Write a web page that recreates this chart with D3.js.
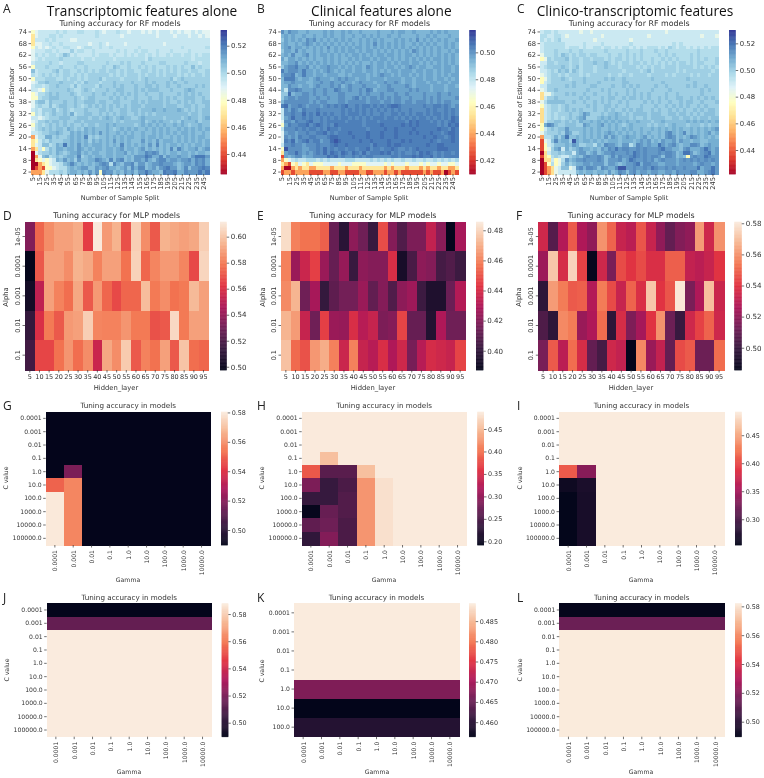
<!DOCTYPE html>
<html><head><meta charset="utf-8">
<script src="https://cdn.jsdelivr.net/npm/d3@7"></script>
<style>html,body{margin:0;padding:0;background:#fff}svg{display:block;filter:blur(0.35px)}text{font-family:"DejaVu Sans",sans-serif;fill:#333}</style>
</head><body><svg id="c" width="764" height="778"></svg>
<script>
// ---- categories ----
const rfSplits = d3.range(5,255,5);
const rfEstimators = d3.range(74,0,-2);
const mlpLayers = d3.range(5,100,5);
const mlpAlphas = ["1e-05","0.0001","0.001","0.01","0.1"];
const gammas = ["0.0001","0.001","0.01","0.1","1.0","10.0","100.0","1000.0","10000.0"];
const cValues = ["0.0001","0.001","0.01","0.1","1.0","10.0","100.0","1000.0","10000.0","100000.0"];
const cValuesK = ["0.0001","0.001","0.01","0.1","1.0","10.0","100.0"];

// ---- accuracy levels; each RF row character indexes one level ----
const levelsA = [.425,.44,.455,.47,.48,.488,.494,.498,.502,.506,.51,.514,.517,.52,.525,.531];
const levelsB = [.41,.425,.44,.455,.465,.473,.48,.485,.489,.493,.497,.501,.504,.507,.511,.516];
const levelsC = [.422,.437,.452,.465,.475,.484,.491,.496,.50,.504,.508,.512,.515,.519,.524,.53];

const rfA = [
"4566666767 6667766676 5666766566 6565656665 6565565655",
"3566677676 6666666676 6666656666 6666656666 5666566565",
"3666767666 6556666666 6666666666 6666666666 6666666666",
"3556676676 6666665667 6566665666 6666666566 6666666666",
"4656567667 7665677667 6676666666 7666666666 6676666667",
"5666776766 6867766766 6666767667 6776676667 6666766666",
"5767677679 8676666767 7767667676 7767676676 7767767677",
"5676777787 7777677677 7776777777 7768777777 7777767777",
"6777787767 7778877777 7877787877 7877778877 7778777677",
"4777877787 7787787777 8779877877 8787877787 8787797877",
"9677778978 8778787878 8788787887 7887878787 8788788778",
"7678787878 8787878888 8878787888 7878878788 8787878878",
"4777888778 7887878889 7888878888 7898888889 7898888888",
"5688988898 8878798887 8889888898 8898988898 9889888888",
"6776788988 8797888879 8889898889 8899898898 8988889898",
"6654788888 9877898788 8988998889 8989998889 8889a98888",
"4577898988 8987888988 9889898989 8898889888 8989898988",
"4478899988 8898789988 8898989889 8889889898 9889998898",
"5899798889 8898899989 9889988899 8989999898 8989898899",
"5787797899 8898789898 9898989899 9899999899 9889989889",
"6768889789 8788898889 9898899899 8999a99a99 9a98989899",
"4768789889 8a78899889 8989899889 8989899999 9999899899",
"6656788899 9889998998 9a989a9988 9a99999899 9989a9989a",
"5688989989 8899899999 9998989999 9a89a9a998 98a999a899",
"4787898989 8988989989 9a9a999998 9a9a9a9a99 a9a9899a99",
"5789898998 a9898a9a99 9a989a9a9a 99a9a9a9a9 9a9a9a9a9a",
"6678899a98 8a9a9a9a9b 9a99a9a9a9 9a99a9a9a9 a9aa9a99a9",
"2577aa8988 9a9a9c8989 9a9a9a9aa9 9a9aa9a99a 9a9a9a9aa9",
"3468798889 9a9a9a8a9a 9a9b9a9a99 9b9a9b9aaa 9a9a9a9a9a",
"3569978a9d 9a9b9a9aaa 9a9a9c9a9a 9a9b9c9a9a a9a9a9aa9a",
"2364798aa9 aa9ba9a9aa 9aa9ab9aa9 ab9a9a9a9c 9ca9aab9ab",
"0578898a98 9aab9a9aa9 9aa9aab9a9 aacbcb9a9a a9aa9a9aa9",
"0259a78989 aa9c89a9aa 9aa9aa9a9b bbdcaac9ba abaa9bdddb",
"0345456a9b 9a8b99aacb a9c9bc9a9b baca9bccab babbcacbca",
"0023456679 aca9a9a9ab cb7ca9bbc9 bb9abbcbbb a9abbacbca",
"0121445677 9a9abb99ba bcaa9ab9ca cc9ab9bcdb b9ac9bbcdc",
"2223577787 9aa9a9b9b4 cbb9a9bab9 bbdbaa9dcc daacbbbdbd"
];
const rfB = [
"b9baa99a99 99a9a99a9a 99a9999a99 9a9aa99a99 99a9a9a999",
"9a9a99a99a 99a9a99a99 a99a9a9a99 a99a9999a9 9a9a999a99",
"8a9a9a9bab 9a9a9a9a9a 99a9a9a9a9 99a9a9a9b9 a9a9a9a99a",
"9a99a9aba9 a9a9a9a9a9 a9a9a9b9a9 a9a9a99a9a 9a9a99a9a9",
"9ab9aa9a9a 9a9b9a9a9a 9aa9a9a9a9 a9a9a9a9a9 a9a9a9a9a9",
"8aa9b9a99a 9a9a9a9a9a a9a9aa9a9a 9a9a9a9ba9 a9a9a99a9a",
"9a9b99ab9a 9aa9a9a9a9 aa9a9a9aa9 aa9a9aa9a9 a9a9a9a9a9",
"a8aa9a9a9a 99a9a9a99a 9a9aa9a9aa 9a9a9a9a9a 9a9aa9a9a9",
"99aab9a9a9 a9a9a9a9a9 a9a99a9aa9 a9a9aa9aa9 a9a9a9a9a9",
"8abbcaab9a 9aabaa9a9a 9aa9ba9aa9 aa9a9aba9a a99aa9aa9a",
"cabbbacaa9 a9aba9a9aa 9aa9aa9a9a 9aa9aaa9aa 9aa9a9aa9a",
"abbc9acaa9 aa9aaa99a9 aaaa9a9aba a9a9aa9a9a 9aa9a9a9aa",
"9ccca9aa9a baaa9ababa a9aa9aaaa9 aaaa9aa9aa 9aa9aa9a9a",
"9aabaaa99a abaabaabaa 9abaaa9aab aaba9aa9aa a9aa9aa9aa",
"99baa9aa9a baaabab9ab aaabaaa9aa baaaaba9aa aa9aaa9aa9",
"96bbcbaaab aabaacbaab aabacb9aaa bbaaaababa aa9aaa9aaa",
"88d9aabbab aabaaabbaa aababaaaba aabaabaaaa baaabaabaa",
"8abbabbbaa baabaabbaa bcababbaba babbaabaaa bababaaaab",
"9bbbbbbbab abbaaabbab bbbbabbbab babbabbabb babababbaa",
"cdabbcbabb babcbcbcdb bcbccbcbcb cddcbbbbbb cbbccbcbab",
"6bacbacbbb cbbbbbbcbc bcbcbcbcbc bcbcbbcbbb bcbcbbcbcb",
"6bbcbbdbcb dbcbcbbcbc ccbcbcbbcb bccbcbcbcc bcbccbcbcb",
"6abdbbcbcb bcbcbcbccb cbcbcbcccb ccbcbcbcbc cbcbcbcbdc",
"5bbacbbcdb bcbcccccbc cccbcccbcc cccccbdcdc ccbcbcbcdc",
"4acbbccdbc dcbcbdcccc cccbccccdc ccccdcdcdc ccccbcbdcd",
"6bbbcbcbcc bcbdccbccc ccccbccccd ccdccccdcc ccccdccbdc",
"5abbabbcbb ccdbcbcccd ccccdcccdc ccdcccdcdc ccdccbcddc",
"5babacbbcc bbbcddcccc dcccdcccdc ccdccccccc dccdccbcdc",
"5cbdabcdbc cabbdedccc ccdccdcccc dcccdcdccc ccdcbcccdc",
"6bbcbbabbb cbbbcdccdc cccccbdccc dcddcccccc cdccddcccc",
"4ebbbbaabb cbdbcbccbc cbccdbccbc cdcbbcbcdc ccccdddccc",
"3abbdbabab cbdbdcbdcb dcbdbcccdc dbcbcbbcbd cdcbcbccbc",
"1a9abb9aab bbbdcdbcbb cbcbccbbbb bccbcccdcd ccdbcbcccc",
"2456766777 6767666677 7666676767 6766766766 7667676767",
"3214354354 4455554555 4444555554 5455545554 5455455445",
"2002323322 3333233323 3323333332 3233323332 3233233223",
"1221222211 1122112211 1122112221 2212111111 2121120121"
];
const rfC = [
"6776766666 6566566666 6666666666 6666656666 6666666666",
"7766776566 6666666566 6666666666 5666666666 6666656665",
"7676786666 6666656666 6666656666 6666666666 6666666666",
"6777777666 6676666766 6666676666 6666666767 6666666666",
"6777777677 7676677677 6767767676 7776768767 7676767677",
"6777877787 7877777787 7777877787 7787787777 7777877777",
"5777879878 7887887778 7787878787 7778787877 7787877777",
"4587888978 8788788878 7887878787 7877878787 7787878778",
"6688788878 8788898898 7878878878 7878787878 8787887778",
"6788889878 9788878898 8878888787 8788788878 8887878787",
"6678798979 8788878888 8887888878 9788888878 7888888878",
"5678878788 8787888887 8878878888 7888878788 8878788788",
"4578889878 8898888898 9889888888 8988888888 8988888888",
"4678888889 8898889888 8889988888 8888988888 8889888888",
"6688888989 8888998888 9889898988 8898898888 8989889888",
"5688988888 8889888989 8888989888 8988889888 8888898988",
"3557888989 8898898889 8988989898 9888898898 8888898888",
"3688988888 8989888989 9889899898 9889898899 8898989898",
"5799999889 8898898989 8898988889 8989889889 8998898889",
"4678878988 8889898899 8988988898 8898898989 8988989888",
"3678878989 8988898898 9889898998 8989889898 9889898998",
"3678788898 89ba888989 9a98989999 8999889989 9898989998",
"3678787898 9ab8889a9a 9a99989889 8999988998 9989899899",
"3688998989 8a99a9a9a9 a9a9a99a99 9899a99999 9a9a9a9a9a",
"4acb988999 88ba99ab9a 9a989a9999 8989989a99 9899989899",
"4689899b99 99a9a9a99a 9a9a9a99a9 9a9a9a9a9a 99a9a9a9ab",
"5788898ba8 89a9a9a9ab a9a9a9a9a9 a99a9bca9a c9a9a9ab9a",
"2778a8ad99 a9a9a9a9b9 ba9abaa9ab 9a9a9bcb9a 9acba9a9a9",
"1569c9aa8e a9aa9a9a9a aa9aaa9aba b9a9baab9b aa9aa99aaa",
"1467999a9b a88997a9cb ba9bb79cba baadbabca9 aaccb9abaa",
"1458ab6a89 abaa9a9bac bdbccbbcbc bbbcdbbaa9 bcaaabdbab",
"0368898996 abb9ab9abb cbbbcbdcbc bbbcbccb9a ddb9abcdab",
"1347876689 a9bcbbcb9a cacbbcdcbc bccb9ccb9a 94bcbbdcbb",
"0336457b9a bbcbbbcb9b bbcabdcbbc bcabcbbbab cbcbcbcbcb",
"0147458a89 aabbabbb9b ba9abbcdac cbbaabbbab bbbabcbbab",
"0123569956 bcaccb9cba aceebbcbbc bdcbbcbcbb cbbbdabbdb",
"0123566666 9a9aa9aa9b 9acb9bcabb abbaabbacb bbccaabcdb"
];
// ---- MLP accuracies ----
const mlpD = [
[.535,.575,.585,.59,.59,.593,.565,.611,.588,.595,.57,.603,.585,.572,.595,.592,.59,.592,.603],
[.498,.572,.59,.59,.585,.595,.592,.582,.59,.59,.578,.604,.575,.583,.588,.588,.583,.568,.605],
[.503,.552,.59,.582,.577,.592,.572,.588,.575,.568,.575,.575,.598,.58,.585,.578,.58,.597,.59],
[.513,.56,.58,.572,.588,.59,.603,.583,.582,.582,.587,.58,.58,.57,.572,.606,.58,.59,.59],
[.517,.567,.567,.578,.587,.577,.585,.555,.592,.585,.602,.572,.582,.578,.59,.572,.6,.577,.575]];
const mlpE = [
[.482,.46,.457,.457,.453,.413,.398,.422,.415,.402,.449,.42,.408,.418,.418,.435,.421,.388,.428],
[.46,.425,.437,.446,.425,.413,.424,.402,.422,.42,.42,.441,.393,.406,.422,.42,.405,.408,.403],
[.462,.472,.415,.428,.401,.411,.416,.416,.425,.412,.42,.408,.422,.426,.403,.395,.395,.414,.431],
[.472,.466,.436,.415,.446,.425,.424,.441,.432,.436,.418,.42,.447,.413,.413,.396,.43,.415,.415],
[.475,.455,.45,.465,.47,.46,.437,.46,.436,.432,.441,.43,.438,.417,.432,.44,.438,.436,.447]];
const mlpF = [
[.535,.507,.528,.548,.527,.52,.56,.55,.533,.53,.547,.533,.52,.51,.517,.52,.562,.535,.56],
[.523,.572,.537,.575,.543,.487,.535,.515,.545,.54,.545,.538,.538,.549,.549,.532,.53,.533,.54],
[.497,.562,.555,.548,.549,.528,.555,.545,.533,.55,.538,.572,.54,.547,.58,.515,.527,.57,.534],
[.505,.497,.558,.555,.522,.527,.552,.497,.537,.516,.525,.54,.56,.512,.5,.535,.543,.55,.535],
[.515,.548,.53,.552,.537,.51,.503,.535,.532,.486,.558,.522,.532,.51,.545,.548,.512,.512,.552]];
// ---- SVM accuracies ----
const svmG = [
[.49,.49,.49,.49,.49,.49,.49,.49,.49],[.49,.49,.49,.49,.49,.49,.49,.49,.49],
[.49,.49,.49,.49,.49,.49,.49,.49,.49],[.49,.49,.49,.49,.49,.49,.49,.49,.49],
[.49,.518,.49,.49,.49,.49,.49,.49,.49],[.551,.558,.49,.49,.49,.49,.49,.49,.49],
[.58,.558,.49,.49,.49,.49,.49,.49,.49],[.58,.558,.49,.49,.49,.49,.49,.49,.49],
[.58,.558,.49,.49,.49,.49,.49,.49,.49],[.58,.558,.49,.49,.49,.49,.49,.49,.49]];
const svmH = [
[.488,.488,.488,.488,.488,.488,.488,.488,.488],[.488,.488,.488,.488,.488,.488,.488,.488,.488],
[.488,.488,.488,.488,.488,.488,.488,.488,.488],[.488,.455,.488,.488,.488,.488,.488,.488,.488],
[.385,.26,.26,.455,.488,.488,.488,.488,.488],[.285,.235,.25,.425,.48,.488,.488,.488,.488],
[.235,.235,.255,.425,.48,.488,.488,.488,.488],[.195,.27,.255,.425,.48,.488,.488,.488,.488],
[.265,.275,.25,.425,.48,.488,.488,.488,.488],[.23,.29,.25,.425,.48,.488,.488,.488,.488]];
const svmI = [
[.492,.492,.492,.492,.492,.492,.492,.492,.492],[.492,.492,.492,.492,.492,.492,.492,.492,.492],
[.492,.492,.492,.492,.492,.492,.492,.492,.492],[.492,.492,.492,.492,.492,.492,.492,.492,.492],
[.41,.335,.492,.492,.492,.492,.492,.492,.492],[.262,.27,.492,.492,.492,.492,.492,.492,.492],
[.255,.268,.492,.492,.492,.492,.492,.492,.492],[.255,.268,.492,.492,.492,.492,.492,.492,.492],
[.255,.268,.492,.492,.492,.492,.492,.492,.492],[.255,.268,.492,.492,.492,.492,.492,.492,.492]];
const svmJByC = [.49,.515,.588,.588,.588,.588,.588,.588,.588,.588];
const svmKByC = [.4894,.4894,.4894,.4894,.467,.4564,.4595];
const svmLByC = [.49,.515,.582,.582,.582,.582,.582,.582,.582,.582];

// ---- headers & labels ----
const panelLetters = ["A","B","C","D","E","F","G","H","I","J","K","L"];
const headers = ["Transcriptomic features alone","Clinical features alone","Clinico-transcriptomic features"];

// ---- helpers ----
const decode = (rows,levels)=>rows.map(r=>Array.from(r.replace(/ /g,"")).map(c=>levels[parseInt(c,16)]));
const byC = (vals,n)=>vals.map(v=>Array(n).fill(v));
const rdylbu = d3.scaleLinear().domain(d3.range(11).map(i=>i/10)).range(d3.schemeRdYlBu[11]).interpolate(d3.interpolateRgb);
const rocketStops = ["#03051a","#35193e","#701f57","#ad1759","#e13342","#f37651","#f6b48f","#faebdd"];
const rocket = d3.scaleLinear().domain(d3.range(8).map(i=>i/7)).range(rocketStops).interpolate(d3.interpolateRgb);

const svg = d3.select("#c");
function heatmap(p){
  const g = svg.append("g");
  const x = d3.scaleBand().domain(p.xs.map(String)).range([p.x0,p.x1]);
  const y = d3.scaleBand().domain(p.ys.map(String)).range([p.y0,p.y1]);
  const col = d3.scaleSequential(p.cmap).domain([p.vmin,p.vmax]);
  p.z.forEach((row,i)=>row.forEach((v,j)=>{
    g.append("rect").attr("x",x(String(p.xs[j]))).attr("y",y(String(p.ys[i])))
     .attr("width",x.bandwidth()+.5).attr("height",y.bandwidth()+.5).attr("fill",col(v)).attr("shape-rendering","crispEdges");
  }));
  const ax = d3.axisBottom(x).tickSize(p.ts).tickPadding(1.5).tickValues(p.xs.filter((d,i)=>i%p.xe===0).map(String));
  const ay = d3.axisLeft(y).tickSize(p.ts).tickPadding(1.5).tickValues(p.ys.filter((d,i)=>i%p.ye===0).map(String));
  const gx = g.append("g").attr("transform",`translate(0,${p.y1})`).call(ax);
  const gy = g.append("g").attr("transform",`translate(${p.x0},0)`).call(ay);
  [gx,gy].forEach(a=>{a.select(".domain").remove();a.selectAll("line").attr("stroke","#333").attr("stroke-width",.7);a.selectAll("text").attr("font-size",p.fs).style("fill","#333")});
  if(p.xrot) gx.selectAll("text").attr("transform","rotate(-90)").attr("text-anchor","end").attr("x",-p.xgap).attr("y",0).attr("dy",0).attr("dominant-baseline","central");
  if(p.yrot) gy.selectAll("text").attr("transform","rotate(-90)").attr("text-anchor","middle").attr("x",0).attr("y",-5.5).attr("dy",0);
  // title & axis labels
  g.append("text").attr("x",(p.x0+p.x1)/2).attr("y",p.y0-3.6).attr("text-anchor","middle").attr("font-size",p.tfs).text(p.title);
  g.append("text").attr("x",p.xlx).attr("y",p.xly).attr("text-anchor","middle").attr("font-size",p.lfs).text(p.xlabel);
  g.append("text").attr("transform",`translate(${p.ylx},${p.yly}) rotate(-90)`).attr("text-anchor","middle").attr("font-size",p.lfs).text(p.ylabel);
  // colour bar
  const cy = d3.scaleLinear().domain([p.vmin,p.vmax]).range([p.y1,p.y0]);
  const steps = d3.range(0,256);
  const bh = (p.y1-p.y0)/256;
  g.append("g").selectAll("rect").data(steps).join("rect")
    .attr("x",p.cx0).attr("width",p.cx1-p.cx0)
    .attr("y",i=>p.y1-(i+1)*bh).attr("height",bh+.4)
    .attr("fill",i=>col(p.vmin+(p.vmax-p.vmin)*(i+.5)/256));
  const ac = d3.axisRight(cy).tickValues(p.ticks).tickFormat(d3.format(p.tf)).tickSize(2.5).tickPadding(1.5);
  const gc = g.append("g").attr("transform",`translate(${p.cx1},0)`).call(ac);
  gc.select(".domain").remove();gc.selectAll("line").attr("stroke","#333").attr("stroke-width",.7);
  gc.selectAll("text").attr("font-size",p.cfs).style("fill","#333");
}
const rfBase = {xs:rfSplits,ys:rfEstimators,xe:2,ye:3,xrot:true,xgap:3,ts:2.5,cmap:t=>rdylbu(t),fs:6.7,cfs:6.9,tfs:7.9,lfs:6.6,title:"Tuning accuracy for RF models",xlabel:"Number of Sample Split",ylabel:"Number of Estimator",y0:30,y1:174,xly:199.5,yly:102,tf:".2f"};
const mlpBase = {xs:mlpLayers,ys:mlpAlphas,xe:1,ye:1,yrot:true,ts:2.5,cmap:t=>rocket(t),fs:6.5,cfs:7.1,tfs:7.9,lfs:6.8,title:"Tuning accuracy for MLP models",xlabel:"Hidden_layer",ylabel:"Alpha",y0:221.7,y1:370,xly:390,yly:297,tf:".2f"};
const svmBase = {xs:gammas,xe:1,ye:1,xrot:true,xgap:5,ts:2.5,cmap:t=>rocket(t),fs:6.1,cfs:6.4,tfs:7.2,lfs:6.2,title:"Tuning accuracy in models",xlabel:"Gamma",ylabel:"C value",tf:".2f"};
const panels = [
 {...rfBase,z:decode(rfA,levelsA),x0:31,x1:209,cx0:220.7,cx1:227,vmin:.4252,vmax:.5316,ticks:[.44,.46,.48,.5,.52],xlx:120,ylx:14},
 {...rfBase,z:decode(rfB,levelsB),x0:280.7,x1:458.3,cx0:469.3,cx1:475.7,vmin:.4096,vmax:.5166,ticks:[.42,.44,.46,.48,.5],xlx:369,ylx:264},
 {...rfBase,z:decode(rfC,levelsC),x0:540,x1:718.3,cx0:729,cx1:735.7,vmin:.422,vmax:.53,ticks:[.44,.46,.48,.5,.52],xlx:629,ylx:522},
 {...mlpBase,z:mlpD,x0:25,x1:208.3,cx0:220,cx1:226.7,vmin:.4975,vmax:.6115,ticks:[.5,.52,.54,.56,.58,.6],xlx:116,ylx:8},
 {...mlpBase,z:mlpE,x0:281,x1:465,cx0:476,cx1:483.3,vmin:.3872,vmax:.4857,ticks:[.4,.42,.44,.46,.48],xlx:373,ylx:265},
 {...mlpBase,z:mlpF,x0:538.3,x1:724,cx0:734.3,cx1:741.7,vmin:.4857,vmax:.581,ticks:[.5,.52,.54,.56,.58],xlx:631,ylx:521},
 {...svmBase,ys:cValues,z:svmG,x0:45.7,x1:210.7,y0:411.7,y1:545,cx0:221,cx1:227.7,vmin:.4898,vmax:.5805,ticks:[.5,.52,.54,.56,.58],xlx:128,xly:582,ylx:8,yly:478},
 {...svmBase,ys:cValues,z:svmH,x0:301.7,x1:466.7,y0:411.7,y1:545,cx0:477.3,cx1:484,vmin:.1918,vmax:.4885,ticks:[.2,.25,.3,.35,.4,.45],xlx:384,xly:582,ylx:264,yly:478},
 {...svmBase,ys:cValues,z:svmI,x0:559,x1:724,y0:411.7,y1:545,cx0:735,cx1:741.7,vmin:.254,vmax:.492,ticks:[.3,.35,.4,.45],xlx:641,xly:582,ylx:522,yly:478},
 {...svmBase,ys:cValues,z:byC(svmJByC,9),x0:46.7,x1:211.7,y0:603.3,y1:736.7,cx0:221.7,cx1:228.3,vmin:.4897,vmax:.5879,ticks:[.5,.52,.54,.56,.58],xlx:129,xly:774,ylx:9,yly:670},
 {...svmBase,ys:cValuesK,z:byC(svmKByC,9),x0:294,x1:459,y0:603.3,y1:736.7,cx0:469,cx1:475.7,vmin:.4564,vmax:.4894,ticks:[.46,.465,.47,.475,.48,.485],tf:".3f",xlx:377,xly:774,ylx:264,yly:671},
 {...svmBase,ys:cValues,z:byC(svmLByC,9),x0:559.3,x1:724.3,y0:603.3,y1:736.7,cx0:735,cx1:741.7,vmin:.4896,vmax:.5821,ticks:[.5,.52,.54,.56,.58],xlx:641,xly:774,ylx:522,yly:670}
];
panels.forEach(heatmap);

// panel letters and column headers
const letterX = [3,257,517,3,257,516,3,257,517,3,257,517];
const letterY = [13,13,13,220,220,220,410,410,410,602,602,602];
panelLetters.forEach((l,i)=>svg.append("text").attr("x",letterX[i]).attr("y",letterY[i]).attr("font-size",12).style("font-family",'"Open Sans"').style("fill","#222").text(l));
const headerX = [46.7,311,536.7], headerW=[190.5,140.7,196.6];
headers.forEach((h,i)=>svg.append("text").attr("x",headerX[i]).attr("y",15.5).attr("font-size",14.5).attr("textLength",headerW[i]).attr("lengthAdjust","spacingAndGlyphs").style("font-family",'"Open Sans"').style("fill","#111").text(h));
</script></body></html>
